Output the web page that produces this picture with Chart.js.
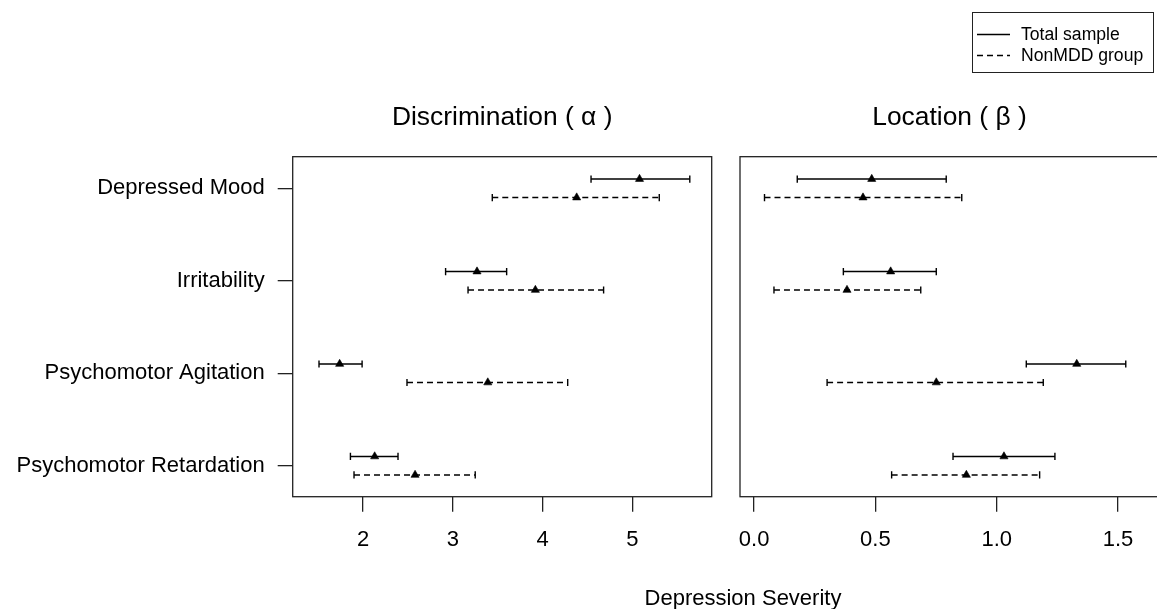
<!DOCTYPE html>
<html><head><meta charset="utf-8">
<script src="https://cdn.jsdelivr.net/npm/chart.js@4.4.1/dist/chart.umd.min.js"></script>
<style>
html,body{margin:0;padding:0;background:#fff;overflow:hidden;width:1157px;height:609px;}
#wrap{position:relative;width:1170px;height:609px;background:#fff;}
canvas{position:absolute;left:0;top:0;}
.txt{font-family:'Liberation Sans',Arial,sans-serif;color:#000;}
#legend{position:absolute;left:972px;top:12px;width:182px;height:61px;border:1px solid #222;box-sizing:border-box;font-size:17.6px;}
#legend .row{position:absolute;left:0;height:20px;line-height:20px;width:180px;}
#legend svg{position:absolute;left:3px;top:0;}
#legend span{position:absolute;left:48px;top:0;white-space:nowrap;}
#xtitle{position:absolute;left:543px;width:400px;top:585px;text-align:center;font-size:22px;line-height:26px;}
</style>
</head><body>
<div id="wrap">
<canvas id="c1" width="1170" height="609"></canvas>
<canvas id="c2" width="1170" height="609"></canvas>
<div id="legend" class="txt">
  <div class="row" style="top:11px"><svg width="36" height="20"><line x1="1" y1="10.5" x2="34" y2="10.5" stroke="#000" stroke-width="1.4"/></svg><span>Total sample</span></div>
  <div class="row" style="top:32px"><svg width="36" height="20"><line x1="1" y1="10.5" x2="34" y2="10.5" stroke="#000" stroke-width="1.4" stroke-dasharray="6,4"/></svg><span>NonMDD group</span></div>
</div>
<div id="xtitle" class="txt">Depression Severity</div>
</div>
<script>
// ---- data ----
const categories = ['Depressed Mood', 'Irritability', 'Psychomotor Agitation', 'Psychomotor Retardation'];
const seriesNames = ['Total sample', 'NonMDD group'];

const alphaTotalEst = [5.08, 3.27, 1.74, 2.13];
const alphaTotalLo  = [4.54, 2.92, 1.51, 1.86];
const alphaTotalHi  = [5.64, 3.60, 1.99, 2.39];
const alphaNonEst   = [4.38, 3.92, 3.39, 2.58];
const alphaNonLo    = [3.44, 3.17, 2.49, 1.90];
const alphaNonHi    = [5.30, 4.68, 4.28, 3.25];

const betaTotalEst = [0.485, 0.563, 1.330, 1.030];
const betaTotalLo  = [0.178, 0.368, 1.122, 0.820];
const betaTotalHi  = [0.792, 0.751, 1.532, 1.240];
const betaNonEst   = [0.449, 0.383, 0.751, 0.875];
const betaNonLo    = [0.043, 0.082, 0.301, 0.567];
const betaNonHi    = [0.856, 0.687, 1.192, 1.177];

const alphaTicks = [2, 3, 4, 5];
const alphaTickLabels = ['2', '3', '4', '5'];
const betaTicks = [0, 0.5, 1.0, 1.5];
const betaTickLabels = ['0.0', '0.5', '1.0', '1.5'];

// ---- layout / style constants ----
const FONT = "'Liberation Sans', Arial, sans-serif";
const INK = '#000';
const FRAME = '#222';
const ROW_OFFSET = 0.1;
const Y_MIN = 0.665, Y_MAX = 4.342;

function rowsFor(lo, est, hi, offset) {
  return categories.map((c, i) => {
    const y = categories.length - i + offset;
    return [{x: lo[i], y}, {x: est[i], y}, {x: hi[i], y}];
  });
}

function makeDatasets(totLo, totEst, totHi, nonLo, nonEst, nonHi) {
  const ds = [];
  const common = {
    showLine: true,
    borderColor: INK,
    borderWidth: 1.4,
    pointStyle: ctx => ctx.dataIndex === 1 ? 'triangle' : 'line',
    pointRotation: ctx => ctx.dataIndex === 1 ? 0 : 90,
    pointRadius: ctx => ctx.dataIndex === 1 ? 4.7 : 3.6,
    pointBorderWidth: ctx => ctx.dataIndex === 1 ? 0.6 : 1.4,
    pointBackgroundColor: INK,
    pointBorderColor: INK,
    pointHoverRadius: 0
  };
  rowsFor(totLo, totEst, totHi, ROW_OFFSET).forEach(d => ds.push(Object.assign({label: seriesNames[0], data: d}, common)));
  rowsFor(nonLo, nonEst, nonHi, -ROW_OFFSET).forEach(d => ds.push(Object.assign({label: seriesNames[1], data: d, borderDash: [6, 4]}, common)));
  return ds;
}

const framePlugin = {
  id: 'frame',
  afterDraw(chart) {
    const a = chart.chartArea, ctx = chart.ctx;
    ctx.save();
    ctx.strokeStyle = FRAME;
    ctx.lineWidth = 1.3;
    ctx.strokeRect(a.left, a.top, a.right - a.left, a.bottom - a.top);
    ctx.restore();
  }
};

function buildChart(canvasId, opts) {
  return new Chart(document.getElementById(canvasId), {
    type: 'scatter',
    data: {datasets: opts.datasets},
    plugins: [framePlugin],
    options: {
      responsive: false,
      devicePixelRatio: 1,
      animation: false,
      events: [],
      layout: {padding: opts.padding},
      plugins: {
        legend: {display: false},
        tooltip: {enabled: false},
        title: {
          display: true, text: opts.title, fullSize: false,
          color: INK, font: {family: FONT, size: 26.4, weight: 'normal', lineHeight: 1.2},
          padding: {top: 0, bottom: 23.3}
        }
      },
      scales: {
        x: {
          type: 'linear', min: opts.xMin, max: opts.xMax,
          afterBuildTicks: s => { s.ticks = opts.ticks.map(v => ({value: v})); },
          afterFit: s => { s.height = 80; },
          border: {display: false},
          grid: {drawOnChartArea: false, drawTicks: true, tickLength: 15, color: FRAME, lineWidth: 1.3},
          ticks: {
            color: INK, font: {family: FONT, size: 22}, padding: 15, maxRotation: 0,
            callback: v => opts.tickLabels[opts.ticks.indexOf(v)]
          }
        },
        y: {
          type: 'linear', min: Y_MIN, max: Y_MAX,
          display: opts.showY,
          afterBuildTicks: s => { s.ticks = categories.map((c, i) => ({value: categories.length - i})); },
          afterFit: s => { s.width = opts.yWidth; },
          border: {display: false},
          grid: {drawOnChartArea: false, drawTicks: true, tickLength: 15, color: FRAME, lineWidth: 1.3},
          ticks: {
            color: INK, font: {family: FONT, size: 22}, padding: 13,
            callback: v => categories[categories.length - v]
          }
        }
      }
    }
  });
}

buildChart('c1', {
  datasets: makeDatasets(alphaTotalLo, alphaTotalEst, alphaTotalHi, alphaNonLo, alphaNonEst, alphaNonHi),
  title: 'Discrimination ( \u03B1 )',
  xMin: 1.217, xMax: 5.884,
  ticks: alphaTicks, tickLabels: alphaTickLabels,
  showY: true, yWidth: 292.7,
  padding: {left: 0, right: 1170 - 711.7, top: 101.7, bottom: 609 - 496.7 - 80}
});

buildChart('c2', {
  datasets: makeDatasets(betaTotalLo, betaTotalEst, betaTotalHi, betaNonLo, betaNonEst, betaNonHi),
  title: 'Location ( \u03B2 )',
  xMin: -0.058, xMax: 1.669,
  ticks: betaTicks, tickLabels: betaTickLabels,
  showY: false, yWidth: 0,
  padding: {left: 740, right: 1170 - 1159, top: 101.7, bottom: 609 - 496.7 - 80}
});
</script>
</body></html>
